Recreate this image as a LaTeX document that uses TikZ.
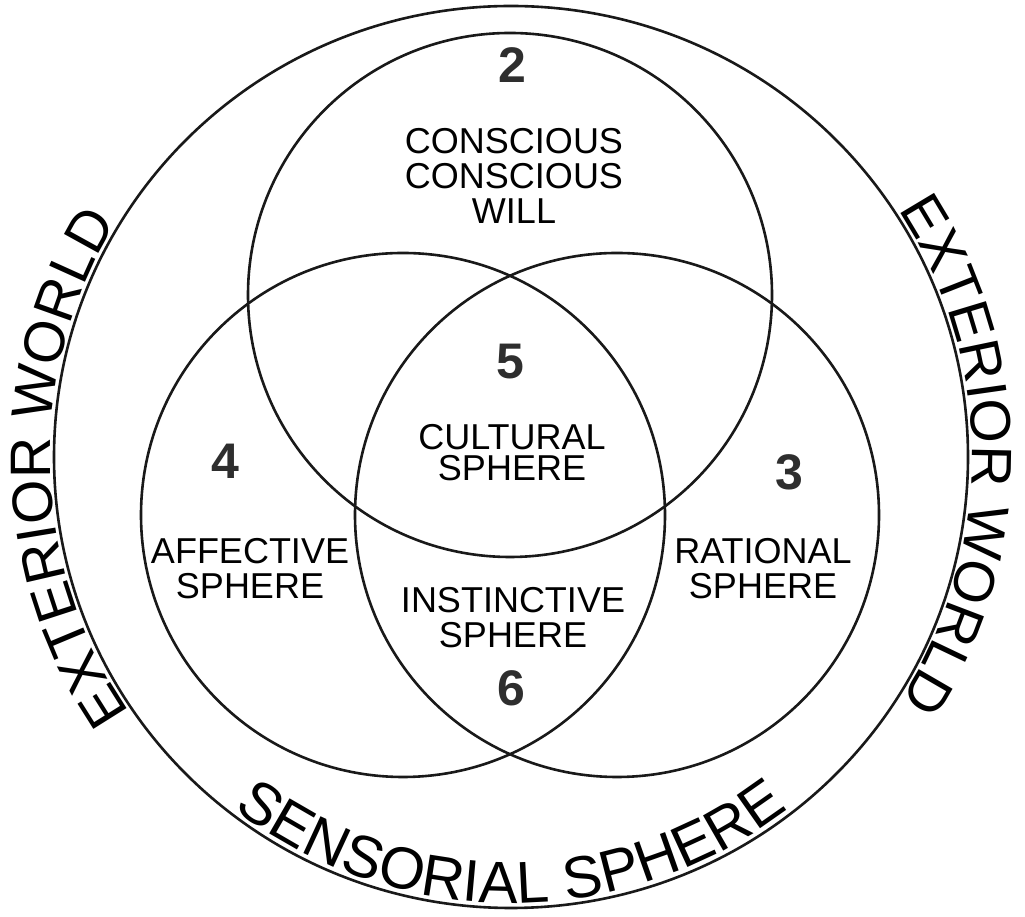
\documentclass[tikz,border=0pt]{standalone}
\usepackage{fontspec}
\setmainfont{Liberation Sans}
\usetikzlibrary{decorations.text,calc}
\begin{document}
\begin{tikzpicture}[x=1pt,y=1pt,
  ring/.style={line width=2.6pt, draw=black!90},
  lbl/.style={font=\fontsize{36}{35}\selectfont, align=center, inner sep=0pt, text=black},
  num/.style={font=\fontsize{50}{50}\selectfont\bfseries, inner sep=0pt, text=black!82},
  arctext/.style 2 args={decorate, decoration={text along path, text align=center, text color=black, text={|\fontsize{#1}{#1}\selectfont|#2}}}
]
\fill[white] (0,0) rectangle (1025,917);
\useasboundingbox (0,0) rectangle (1025,917);
\coordinate (O) at (511,460);
\coordinate (ctop) at (510,622);
\coordinate (cleft) at (403,402);
\coordinate (cright) at (617,402);
% circles
\draw[ring] (O) ellipse [x radius=457pt, y radius=451pt];
\draw[ring] (ctop) circle [radius=262pt];
\draw[ring] (cleft) circle [radius=262pt];
\draw[ring] (cright) circle [radius=262pt];
% curved outer texts
\path[arctext={57}{EXTERIOR WORLD}] ($(O)+(221.5:461pt and 455pt)$) arc[start angle=221.5, end angle=141.5, x radius=461pt, y radius=455pt];
\path[arctext={57}{EXTERIOR WORLD}] ($(O)+(40.3:461pt and 455pt)$) arc[start angle=40.3, end angle=-39.7, x radius=461pt, y radius=455pt];
\path[arctext={59}{SENSORIAL SPHERE}] ($(O)+(222:452pt and 446pt)$) arc[start angle=222, end angle=318, x radius=452pt, y radius=446pt];
% numbers
\node[num] (n2) at (512,852) {2};
\node[num] (n5) at (510,555) {5};
\node[num] (n4) at (225,456) {4};
\node[num] (n3) at (789,445) {3};
\node[num] (n6) at (511,229) {6};
% labels
\node[lbl] (will) at (514,741.5) {CONSCIOUS\\CONSCIOUS\\WILL};
\node[lbl, font=\fontsize{36}{31}\selectfont] (cult) at (512,464.5) {CULTURAL\\SPHERE};
\node[lbl] (aff) at (250,348) {AFFECTIVE\\SPHERE};
\node[lbl] (rat) at (763,348) {RATIONAL\\SPHERE};
\node[lbl] (inst) at (513,299) {INSTINCTIVE\\SPHERE};
\end{tikzpicture}
\end{document}
